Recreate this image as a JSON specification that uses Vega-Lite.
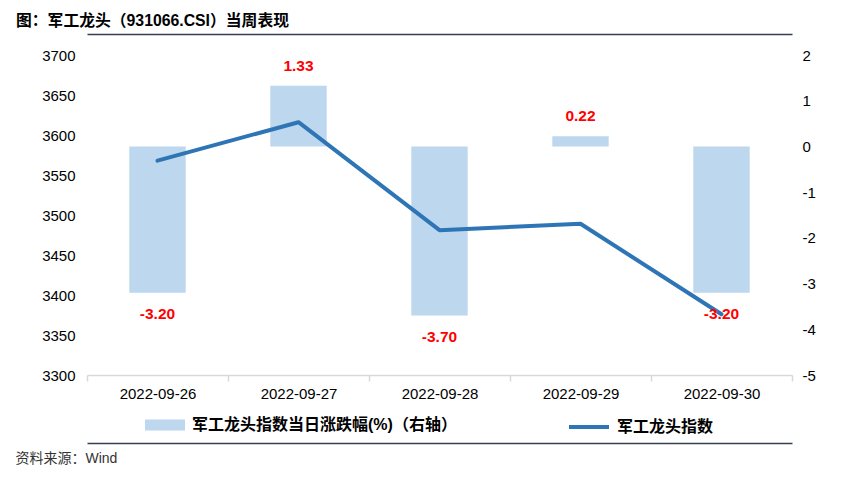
{
  "$schema": "https://vega.github.io/schema/vega-lite/v6.json",
  "width": 705,
  "height": 320,
  "autosize": {"type": "none"},
  "padding": {"left": 87, "top": 55, "right": 62, "bottom": 103},
  "background": "white",
  "title": {
    "text": "图：军工龙头（931066.CSI）当周表现",
    "anchor": "start",
    "frame": "group",
    "dx": -71,
    "dy": 2,
    "offset": 6,
    "fontSize": 15.8,
    "fontWeight": "bold",
    "color": "#000000",
    "font": "Liberation Sans, Noto Sans CJK SC"
  },
  "data": {
    "values": [
      {"date": "2022-09-26", "index": 3568, "chg": -3.20},
      {"date": "2022-09-27", "index": 3616, "chg": 1.33},
      {"date": "2022-09-28", "index": 3481, "chg": -3.70},
      {"date": "2022-09-29", "index": 3489, "chg": 0.22},
      {"date": "2022-09-30", "index": 3376, "chg": -3.20}
    ]
  },
  "layer": [
    {
      "mark": {"type": "bar", "color": "#BDD7EE", "width": {"band": 0.4}},
      "encoding": {
        "x": {
          "field": "date",
          "type": "ordinal",
          "scale": {"paddingInner": 0, "paddingOuter": 0},
          "axis": {
            "orient": "bottom",
            "title": null,
            "labelAngle": 0,
            "tickBand": "extent",
            "domainColor": "#D9D9D9",
            "domainWidth": 1.5,
            "tickColor": "#D9D9D9",
            "tickWidth": 1.5,
            "tickSize": 6,
            "labelFontSize": 15,
            "labelColor": "#000000",
            "labelPadding": 5
          }
        },
        "y": {
          "field": "chg",
          "type": "quantitative",
          "scale": {"domain": [-5, 2], "nice": false, "zero": false},
          "axis": {
            "orient": "right",
            "values": [-5, -4, -3, -2, -1, 0, 1, 2],
            "format": "d",
            "grid": false,
            "domain": false,
            "ticks": false,
            "labelPadding": 10,
            "labelFontSize": 15,
            "labelColor": "#000000",
            "title": null
          }
        },
        "fill": {
          "datum": "军工龙头指数当日涨跌幅(%)（右轴）",
          "scale": {"range": ["#BDD7EE"]},
          "legend": {
            "orient": "none",
            "legendX": 58,
            "legendY": 350,
            "title": null,
            "padding": 0,
            "symbolType": "M-1,-0.27L1,-0.27L1,0.27L-1,0.27Z",
            "symbolSize": 1600,
            "symbolStrokeWidth": 0,
            "labelFontSize": 16,
            "labelFontWeight": "bold",
            "labelColor": "#000000",
            "labelLimit": 500,
            "labelOffset": 7
          }
        }
      }
    },
    {
      "mark": {"type": "line", "color": "#2E75B6", "strokeWidth": 4, "strokeCap": "round", "strokeJoin": "round"},
      "encoding": {
        "x": {
          "field": "date",
          "type": "ordinal",
          "axis": {
            "orient": "top",
            "offset": 21,
            "labels": false,
            "ticks": false,
            "domainColor": "#333F4F",
            "domainWidth": 1.5,
            "title": null
          }
        },
        "y": {
          "field": "index",
          "type": "quantitative",
          "scale": {"domain": [3300, 3700], "nice": false, "zero": false},
          "axis": {
            "orient": "left",
            "values": [3300, 3350, 3400, 3450, 3500, 3550, 3600, 3650, 3700],
            "format": "d",
            "grid": false,
            "domain": false,
            "ticks": false,
            "labelPadding": 12,
            "labelFontSize": 15,
            "labelColor": "#000000",
            "title": null
          }
        },
        "stroke": {
          "datum": "军工龙头指数",
          "scale": {"range": ["#2E75B6"]},
          "legend": {
            "orient": "none",
            "legendX": 480,
            "legendY": 350,
            "title": null,
            "padding": 0,
            "symbolType": "stroke",
            "symbolSize": 1600,
            "symbolStrokeWidth": 4,
            "labelFontSize": 16,
            "labelFontWeight": "bold",
            "labelColor": "#000000",
            "labelLimit": 500,
            "labelOffset": 6
          }
        }
      }
    },
    {
      "transform": [{"filter": "datum.chg >= 0"}],
      "mark": {"type": "text", "dy": -20, "fontSize": 15.5, "fontWeight": "bold", "color": "#FF0000", "baseline": "middle"},
      "encoding": {
        "x": {"field": "date", "type": "ordinal", "axis": null},
        "y": {"field": "chg", "type": "quantitative", "scale": {"domain": [-5, 2], "nice": false, "zero": false}, "axis": null},
        "text": {"field": "chg", "type": "quantitative", "format": ".2f"}
      }
    },
    {
      "transform": [{"filter": "datum.chg < 0"}],
      "mark": {"type": "text", "dy": 21, "fontSize": 15.5, "fontWeight": "bold", "color": "#FF0000", "baseline": "middle"},
      "encoding": {
        "x": {
          "field": "date",
          "type": "ordinal",
          "axis": {
            "orient": "bottom",
            "offset": 68,
            "labels": false,
            "ticks": false,
            "domainColor": "#333F4F",
            "domainWidth": 1.5,
            "title": "资料来源：Wind",
            "titleX": -72,
            "titleY": 15,
            "titleAlign": "left",
            "titleAnchor": null,
            "titleBaseline": "middle",
            "titleFontSize": 14,
            "titleFontWeight": "normal",
            "titleColor": "#333333"
          }
        },
        "y": {"field": "chg", "type": "quantitative", "scale": {"domain": [-5, 2], "nice": false, "zero": false}, "axis": null},
        "text": {"field": "chg", "type": "quantitative", "format": ".2f"}
      }
    }
  ],
  "resolve": {"scale": {"y": "independent"}, "axis": {"x": "independent"}},
  "config": {
    "view": {"stroke": null},
    "font": "Liberation Sans, Noto Sans CJK SC",
    "locale": {
      "number": {
        "decimal": ".",
        "thousands": "",
        "grouping": [3],
        "currency": ["", ""],
        "minus": "-"
      }
    }
  }
}
